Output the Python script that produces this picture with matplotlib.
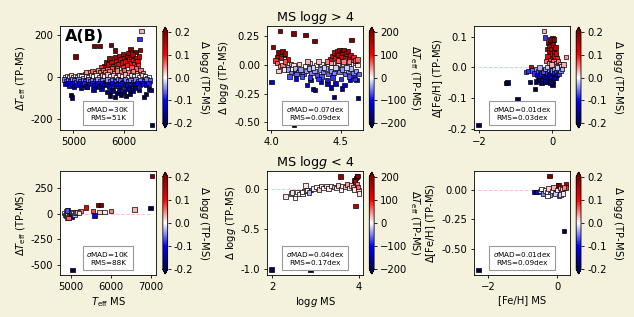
import numpy as np
import matplotlib
matplotlib.use('Agg')
import matplotlib.pyplot as plt

# each row: x (MS value), y (TP-MS difference), colour value
# top row: MS logg > 4
top_teff = np.array([
    [5040, 98, 0.2], [5420, 150, 0.2], [5530, 150, 0.2], [5750, 154, 0.2], [5830, 127, 0.2],
    [6130, 133, 0.2], [6230, 121, 0.2], [6320, 128, 0.18], [6350, 222, 0.03], [6310, 183, -0.08],
    [5620, 52, 0.15], [5660, 70, 0.18], [5700, 60, 0.12], [5720, 88, 0.16], [5760, 72, 0.13],
    [5790, 50, 0.1], [5820, 95, 0.17], [5850, 78, 0.12], [5880, 60, 0.1], [5900, 100, 0.15],
    [5930, 85, 0.14], [5960, 70, 0.12], [5980, 110, 0.16], [6010, 92, 0.13], [6030, 75, 0.11],
    [6060, 100, 0.15], [6080, 115, 0.17], [6100, 85, 0.12], [6130, 68, 0.1], [6150, 95, 0.14],
    [6170, 108, 0.16], [6190, 80, 0.11], [6210, 62, 0.09], [6240, 92, 0.13], [6270, 75, 0.1],
    [6280, 55, 0.08], [6300, 98, 0.14], [6060, 58, 0.09], [5990, 48, 0.08], [5870, 42, 0.07],
    [5760, 40, 0.07], [5680, 38, 0.06], [6150, 45, 0.07], [6240, 40, 0.06], [5550, 45, 0.08],
    [5310, 22, 0.05], [5380, 28, 0.06], [5440, 18, 0.04], [5490, 30, 0.05], [5530, 24, 0.05],
    [5590, 32, 0.06], [5640, 22, 0.05], [5720, 28, 0.05], [5800, 20, 0.04], [5860, 30, 0.05],
    [5940, 24, 0.05], [6000, 32, 0.06], [6090, 22, 0.05], [6180, 28, 0.05], [6260, 20, 0.04],
    [6330, 32, 0.05], [6380, 18, 0.04], [5230, 14, 0.03], [5150, 10, 0.03], [5250, 24, 0.04],
    [4830, 0, 0.0], [4870, 5, 0.01], [4910, -3, -0.01], [4950, 6, 0.02], [4990, 0, 0.0],
    [5030, 4, 0.01], [5070, -2, -0.01], [5110, 6, 0.02], [5160, 2, 0.0], [5200, -4, -0.02],
    [5260, 4, 0.01], [5300, 0, 0.0], [5350, 8, 0.02], [5400, 2, 0.0], [5460, 6, 0.01],
    [5520, -2, -0.01], [5570, 10, 0.03], [5620, 4, 0.01], [5680, 12, 0.03], [5740, 2, 0.0],
    [5790, 8, 0.02], [5850, 0, 0.0], [5910, 10, 0.02], [5970, 4, 0.01], [6030, 12, 0.03],
    [6080, 0, 0.0], [6140, 8, 0.02], [6200, 4, 0.01], [6260, 6, 0.01], [6310, 0, 0.0],
    [6360, 8, 0.02], [6420, 2, 0.0], [6460, -4, -0.02], [6500, 0, 0.0],
    [4820, -12, -0.05], [4860, -20, -0.06], [4900, -15, -0.05], [4940, -22, -0.07], [4980, -10, -0.04],
    [5020, -18, -0.06], [5060, -25, -0.07], [5100, -12, -0.05], [5140, -20, -0.06], [5190, -15, -0.05],
    [5240, -22, -0.07], [5290, -12, -0.05], [5330, -20, -0.06], [5380, -14, -0.05], [5430, -22, -0.07],
    [5480, -12, -0.04], [5530, -20, -0.06], [5580, -15, -0.05], [5630, -24, -0.08], [5680, -12, -0.04],
    [5730, -20, -0.06], [5780, -14, -0.05], [5830, -22, -0.07], [5880, -10, -0.04], [5930, -18, -0.06],
    [5980, -25, -0.08], [6030, -12, -0.05], [6080, -20, -0.06], [6130, -15, -0.05], [6180, -24, -0.07],
    [6230, -12, -0.05], [6280, -20, -0.06], [6330, -15, -0.05], [6400, -22, -0.07], [6450, -12, -0.05],
    [6520, -18, -0.06],
    [4830, -35, -0.11], [4880, -30, -0.1], [4920, -42, -0.12], [4970, -32, -0.1], [5010, -45, -0.13],
    [5060, -38, -0.11], [5110, -30, -0.1], [5170, -40, -0.12], [5210, -28, -0.09], [5260, -45, -0.13],
    [5320, -35, -0.11], [5370, -28, -0.09], [5420, -42, -0.12], [5470, -32, -0.1], [5520, -45, -0.13],
    [5570, -30, -0.1], [5620, -40, -0.12], [5670, -34, -0.11], [5720, -46, -0.13], [5770, -30, -0.1],
    [5820, -42, -0.12], [5870, -35, -0.11], [5920, -48, -0.14], [5970, -32, -0.1], [6020, -44, -0.13],
    [6070, -36, -0.11], [6120, -48, -0.14], [6170, -34, -0.11], [6220, -42, -0.12], [6270, -30, -0.1],
    [6320, -40, -0.12], [6380, -32, -0.1], [6440, -38, -0.11], [6490, -28, -0.09],
    [4950, -88, -0.2], [4975, -98, -0.2], [5150, -52, -0.16], [5270, -48, -0.15], [5400, -60, -0.16],
    [5560, -55, -0.15], [5680, -72, -0.18], [5730, -90, -0.2], [5780, -65, -0.17], [5830, -95, -0.2],
    [5870, -78, -0.18], [5910, -62, -0.16], [5950, -85, -0.19], [6000, -70, -0.18], [6040, -92, -0.2],
    [6080, -58, -0.16], [6120, -80, -0.19], [6170, -65, -0.17], [6220, -52, -0.15], [6300, -62, -0.17],
    [6400, -95, -0.2], [6440, -82, -0.2], [6500, -55, -0.17], [6540, -62, -0.18], [6560, -232, -0.2],
    [5700, -140, -0.06],
])

top_logg = np.array([
    [4.06, 0.30, 200], [4.16, 0.276, 200], [4.245, 0.264, 200], [4.31, 0.21, 200], [4.576, 0.218, 200],
    [4.01, 0.16, 180], [4.05, 0.11, 200], [4.08, 0.12, 160], [4.09, 0.09, 150], [4.04, 0.07, 140],
    [4.07, 0.06, 120], [4.10, 0.10, 160], [4.12, 0.05, 100], [4.03, 0.04, 80], [4.17, -0.05, 150],
    [4.04, 0.02, 60], [4.06, -0.01, 40], [4.08, 0.0, 50], [4.10, 0.03, 70], [4.12, -0.02, 30],
    [4.14, 0.01, 40], [4.05, -0.05, 20], [4.09, -0.04, 10],
    [4.0, -0.15, -140], [4.165, -0.525, -200], [4.45, -0.276, -180], [4.625, -0.285, -170],
    [4.30, -0.21, -150], [4.315, -0.215, -170], [4.257, -0.174, -120], [4.176, -0.116, -100],
    [4.282, -0.131, -110], [4.356, -0.145, -120], [4.404, -0.16, -130], [4.43, -0.195, -150],
    [4.461, -0.16, -130], [4.51, -0.203, -150], [4.527, -0.174, -130], [4.564, -0.131, -110],
    [4.593, -0.096, -90], [4.613, -0.131, -110],
    [4.16, 0.0, 10], [4.20, 0.01, 20], [4.24, -0.01, 0], [4.28, 0.02, 20], [4.32, 0.0, 0],
    [4.36, 0.01, 10], [4.40, -0.01, 0], [4.44, 0.02, 20], [4.48, 0.0, 10], [4.52, 0.01, 20],
    [4.56, -0.01, 0], [4.60, 0.02, 30], [4.62, 0.0, 10], [4.26, 0.03, 30], [4.34, 0.03, 25],
    [4.12, -0.04, -40], [4.14, -0.07, -50], [4.17, -0.03, -30], [4.19, -0.06, -50], [4.21, -0.04, -40],
    [4.23, -0.08, -60], [4.25, -0.05, -40], [4.27, -0.03, -30], [4.29, -0.07, -50], [4.31, -0.05, -40],
    [4.33, -0.09, -70], [4.35, -0.04, -40], [4.37, -0.06, -50], [4.39, -0.03, -30], [4.41, -0.08, -60],
    [4.43, -0.05, -40], [4.45, -0.07, -50], [4.47, -0.03, -30], [4.49, -0.06, -50], [4.51, -0.04, -40],
    [4.53, -0.08, -60], [4.55, -0.05, -40], [4.57, -0.03, -30], [4.59, -0.07, -50], [4.61, -0.05, -40],
    [4.63, -0.08, -60], [4.30, -0.02, -20], [4.38, -0.02, -20], [4.46, -0.02, -20], [4.54, -0.02, -20],
    [4.22, -0.10, -70], [4.28, -0.11, -80], [4.36, -0.10, -70], [4.44, -0.11, -80], [4.50, -0.12, -80],
    [4.56, -0.10, -70], [4.60, -0.12, -80], [4.40, -0.13, -90], [4.34, -0.12, -80], [4.18, -0.08, -60],
    [4.13, -0.10, -70],
    [4.42, 0.05, 100], [4.44, 0.08, 120], [4.45, 0.11, 150], [4.46, 0.06, 100], [4.47, 0.12, 160],
    [4.48, 0.09, 130], [4.49, 0.13, 170], [4.50, 0.07, 110], [4.51, 0.11, 150], [4.52, 0.13, 180],
    [4.53, 0.08, 120], [4.54, 0.10, 140], [4.55, 0.12, 160], [4.56, 0.06, 100], [4.57, 0.09, 120],
    [4.58, 0.05, 80], [4.59, 0.07, 90], [4.60, 0.04, 70], [4.48, 0.04, 60], [4.52, 0.03, 50],
    [4.40, 0.03, 50], [4.43, 0.02, 40], [4.56, 0.03, 50], [4.62, 0.05, 60],
])

top_feh = np.array([
    [-2.02, -0.187, -0.2], [-1.27, -0.05, -0.2], [-1.23, -0.048, -0.2], [-0.95, -0.103, -0.2],
    [-0.61, -0.047, -0.18], [-0.47, -0.069, -0.2], [-0.23, 0.119, 0.03], [-0.20, 0.097, -0.08],
    [0.0, 0.094, 0.2], [0.37, 0.034, 0.04], [-0.58, 0.002, 0.15], [-0.72, -0.014, -0.07],
    [-0.66, -0.012, -0.08], [0.0, -0.057, -0.18],
    [-0.15, 0.06, 0.15], [-0.12, 0.08, 0.18], [-0.10, 0.05, 0.13], [-0.08, 0.07, 0.16], [-0.06, 0.04, 0.12],
    [-0.04, 0.085, 0.2], [-0.02, 0.06, 0.15], [0.0, 0.045, 0.12], [0.02, 0.075, 0.17], [0.04, 0.055, 0.14],
    [0.06, 0.035, 0.1], [0.08, 0.065, 0.15], [0.10, 0.045, 0.12], [0.12, 0.03, 0.09], [-0.13, 0.035, 0.1],
    [-0.05, 0.025, 0.08], [0.03, 0.02, 0.06], [0.11, 0.015, 0.05], [-0.18, 0.02, 0.06], [0.15, 0.02, 0.05],
    [0.2, 0.01, 0.03], [-0.1, 0.015, 0.04], [0.07, 0.005, 0.02], [-0.02, 0.01, 0.03], [0.25, 0.005, 0.02],
    [0.3, 0.01, 0.03], [-0.07, 0.09, 0.2], [0.05, 0.09, 0.19],
    [-0.55, -0.01, -0.06], [-0.5, -0.02, -0.08], [-0.45, -0.005, -0.04], [-0.42, -0.025, -0.1],
    [-0.38, -0.012, -0.06], [-0.35, -0.03, -0.12], [-0.32, -0.008, -0.05], [-0.3, -0.02, -0.09],
    [-0.28, -0.04, -0.15], [-0.25, -0.015, -0.07], [-0.22, -0.028, -0.12], [-0.2, -0.005, -0.04],
    [-0.18, -0.035, -0.14], [-0.15, -0.018, -0.08], [-0.13, -0.045, -0.18], [-0.1, -0.025, -0.1],
    [-0.08, -0.008, -0.05], [-0.06, -0.038, -0.15], [-0.04, -0.015, -0.07], [-0.02, -0.03, -0.12],
    [0.0, -0.01, -0.05], [0.02, -0.042, -0.17], [0.04, -0.02, -0.09], [0.06, -0.005, -0.04],
    [0.08, -0.032, -0.13], [0.1, -0.015, -0.07], [0.12, -0.025, -0.1], [0.15, -0.008, -0.05],
    [0.18, -0.02, -0.08], [0.22, -0.01, -0.05], [0.26, -0.004, -0.03], [-0.4, -0.04, -0.16],
    [-0.3, -0.05, -0.18], [-0.2, -0.045, -0.17], [-0.05, -0.05, -0.19], [0.05, -0.035, -0.14],
    [-0.35, 0.0, -0.03], [-0.15, 0.002, -0.02], [0.12, 0.0, -0.02], [-0.45, -0.045, -0.2],
])

# bottom row: MS logg < 4
bot_teff = np.array([
    [7025, 367, 0.2], [6985, 52, -0.2], [5043, -551, -0.2], [6587, 39, 0.03], [5997, 25, 0.05],
    [5846, 16, 0.01], [5719, 13, 0.02], [5676, 84, 0.2], [5760, 80, 0.2], [5380, 59, 0.12],
    [5549, 25, 0.07], [5592, -20, -0.1], [5238, 25, 0.05],
    [4840, 5, 0.0], [4860, -12, -0.03], [4875, 18, 0.02], [4890, -25, -0.04], [4905, 2, 0.01],
    [4920, -38, 0.04], [4935, 28, -0.08], [4950, -8, 0.0], [4965, 12, 0.02], [4980, -18, -0.02],
    [5000, 6, 0.01], [5015, -30, -0.12], [5030, 15, 0.02], [5050, -5, 0.0], [5070, 8, 0.01],
    [5090, -15, -0.03], [5110, 10, 0.02], [5140, 4, 0.01], [5170, 12, 0.03], [5200, 6, 0.01],
    [4900, 30, -0.07], [4945, -45, 0.06],
])

bot_logg = np.array([
    [1.98, -1.01, -200], [2.88, -1.02, -200], [3.57, 0.149, 180], [3.90, 0.10, 200], [3.93, 0.13, 200],
    [3.95, 0.15, 200], [3.97, 0.16, 190], [3.92, -0.22, 150], [3.91, 0.09, 140],
    [2.31, -0.10, 10], [2.43, -0.06, 0], [2.46, -0.05, -10], [2.52, -0.12, 5], [2.57, -0.046, 0],
    [2.62, -0.07, 10], [2.70, -0.06, 0], [2.74, -0.03, 20], [2.77, 0.037, 10], [2.80, -0.02, 0],
    [2.90, -0.017, -60], [2.95, 0.0, 10], [3.02, 0.02, 0], [3.08, -0.01, 20], [3.12, 0.03, 10],
    [3.18, 0.01, 0], [3.25, 0.035, 20], [3.30, 0.0, 10], [3.36, 0.03, 0], [3.42, 0.02, 30],
    [3.48, 0.01, 10], [3.52, 0.04, 20], [3.58, -0.01, 0], [3.62, 0.03, 10], [3.68, 0.02, 30],
    [3.72, 0.05, 40], [3.78, 0.01, 10], [3.82, 0.04, 20], [3.86, 0.02, 30], [3.90, -0.01, 10],
    [3.96, 0.05, 50], [3.99, -0.02, 20], [4.0, -0.06, 10], [3.98, 0.02, 60], [2.68, -0.04, 0],
    [2.85, -0.05, -30],
])

bot_feh = np.array([
    [-2.29, -0.685, -0.2], [0.21, -0.35, -0.2], [-0.22, 0.12, 0.2], [-0.67, -0.017, -0.12],
    [-0.62, -0.02, -0.15], [-0.57, -0.018, -0.1], [0.02, 0.04, 0.2], [0.02, 0.01, 0.18],
    [0.26, 0.049, 0.15], [0.26, 0.02, 0.08], [-0.09, 0.011, 0.2], [0.04, 0.04, 0.2],
    [-0.5, -0.01, -0.02], [-0.45, 0.005, 0.0], [-0.4, -0.03, -0.05], [-0.35, -0.005, 0.01],
    [-0.3, -0.02, 0.0], [-0.25, 0.01, 0.02], [-0.2, -0.04, -0.04], [-0.15, -0.01, 0.0],
    [-0.1, 0.02, 0.03], [-0.05, -0.03, -0.02], [0.0, 0.0, 0.01], [0.05, -0.05, -0.03],
    [0.08, 0.015, 0.04], [0.12, -0.02, 0.0], [0.15, 0.005, 0.02], [0.2, 0.02, 0.05],
    [0.1, -0.04, -0.02], [-0.28, -0.05, 0.0], [0.18, -0.03, 0.01],
])

stats = [[r'$\sigma$MAD=30K', 'RMS=51K'], [r'$\sigma$MAD=0.07dex', 'RMS=0.09dex'],
         [r'$\sigma$MAD=0.01dex', 'RMS=0.03dex'], [r'$\sigma$MAD=10K', 'RMS=88K'],
         [r'$\sigma$MAD=0.04dex', 'RMS=0.17dex'], [r'$\sigma$MAD=0.01dex', 'RMS=0.09dex']]

ylabels = [r'$\Delta T_{\rm eff}$ (TP-MS)', r'$\Delta$ log$g$ (TP-MS)', r'$\Delta$[Fe/H] (TP-MS)']
xlabels = [r'$T_{\rm eff}$ MS', r'log$g$ MS', '[Fe/H] MS']
clabel_g = r'$\Delta$ log$g$ (TP-MS)'
clabel_t = r'$\Delta T_{\rm eff}$ (TP-MS)'

xticks = [[5000, 6000], [4.0, 4.5], [-2, 0], [5000, 6000, 7000], [2, 4], [-2, 0]]
yticks = [[-200, 0, 200], [-0.5, -0.25, 0, 0.25], [-0.2, -0.1, 0.0, 0.1],
          [-500, -250, 0, 250], [-1.0, -0.5, 0.0], [-0.5, -0.25, 0.0]]
yfmt = ['%d', '%.2f', '%.1f', '%d', '%.1f', '%.2f']

fs = 7.2
plt.rcParams['font.size'] = fs
plt.rcParams['axes.linewidth'] = 0.6
plt.rcParams['xtick.major.size'] = 2.5
plt.rcParams['ytick.major.size'] = 2.5
plt.rcParams['xtick.major.width'] = 0.6
plt.rcParams['ytick.major.width'] = 0.6
plt.rcParams['xtick.major.pad'] = 2.5
plt.rcParams['ytick.major.pad'] = 2.5

fig = plt.figure(figsize=(6.34, 3.17), dpi=100, facecolor='#f4f2dc')

datas = [top_teff, top_logg, top_feh, bot_teff, bot_logg, bot_feh]
colx = [0.0946, 0.4211, 0.7476]
cbx = [0.2568, 0.5825, 0.9088]
rowy = [0.590, 0.1325]
cby = [(0.5962, 0.3186), (0.1356, 0.3218)]

for i, d in enumerate(datas):
    r, c = i // 3, i % 3
    ax = fig.add_axes([colx[c], rowy[r], 0.152, 0.328])
    if c == 1:
        vmin, vmax, clab = -200, 200, clabel_t
    else:
        vmin, vmax, clab = -0.2, 0.2, clabel_g
    ax.plot([d[:, 0].min(), d[:, 0].max()], [0, 0], ls='--', color='pink', lw=0.7, zorder=1)
    sc = ax.scatter(d[:, 0], d[:, 1], c=d[:, 2], cmap='seismic', vmin=vmin, vmax=vmax,
                    marker='s', s=10, edgecolors='black', linewidths=0.5, zorder=2)
    ax.set_xticks(xticks[i])
    ax.set_yticks(yticks[i])
    ax.yaxis.set_major_formatter(matplotlib.ticker.FormatStrFormatter(yfmt[i]))
    ax.set_ylabel(ylabels[c], labelpad=2)
    if r == 1:
        ax.set_xlabel(xlabels[c], labelpad=2)
    ax.text(0.5, 0.16, stats[i][0] + '\n' + stats[i][1], transform=ax.transAxes,
            ha='center', va='center', multialignment='center', fontsize=5.2,
            bbox=dict(facecolor='white', edgecolor='#999999', lw=0.8, pad=2.5))
    cax = fig.add_axes([cbx[c], cby[r][0], 0.0076, cby[r][1]])
    cb = fig.colorbar(sc, cax=cax, extend='both')
    cb.outline.set_linewidth(0.6)
    cax.tick_params(length=2.5, width=0.6, pad=2)
    if c == 1:
        cb.set_ticks([-200, -100, 0, 100, 200])
        cb.set_label(clab, rotation=270, labelpad=10)
    else:
        cb.set_ticks([-0.2, -0.1, 0.0, 0.1, 0.2])
        cb.ax.yaxis.set_major_formatter(matplotlib.ticker.FormatStrFormatter('%.1f'))
        cb.set_label(clab, rotation=270, labelpad=13)

    if i == 0:
        ax.text(0.05, 0.97, 'A(B)', transform=ax.transAxes, ha='left', va='top',
                fontsize=11.5, fontweight='bold')
    if i == 1:
        ax.set_title(r'MS log$g$ > 4', fontsize=9.2, pad=3)
    if i == 4:
        ax.set_title(r'MS log$g$ < 4', fontsize=9.2, pad=3)

plt.savefig('out.png', dpi=100, facecolor=fig.get_facecolor())
